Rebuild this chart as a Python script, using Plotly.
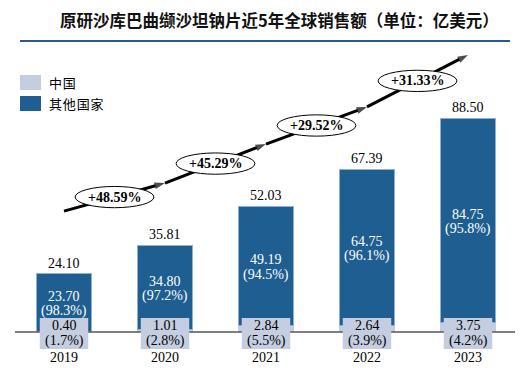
import plotly.graph_objects as go

# ---- data ----
years = ["2019", "2020", "2021", "2022", "2023"]
series_names = ["中国", "其他国家"]
china = [0.40, 1.01, 2.84, 2.64, 3.75]
china_pct = [1.7, 2.8, 5.5, 3.9, 4.2]
other = [23.70, 34.80, 49.19, 64.75, 84.75]
other_pct = [98.3, 97.2, 94.5, 96.1, 95.8]
totals = [24.10, 35.81, 52.03, 67.39, 88.50]
growth = ["+48.59%", "+45.29%", "+29.52%", "+31.33%"]
title = "原研沙库巴曲缬沙坦钠片近5年全球销售额（单位：亿美元）"

# ---- style ----
BLUE = "#1f5e91"
LIGHT = "#c5cde1"
SERIF = "Liberation Serif, Times New Roman, serif"
CJK = "Noto Sans CJK SC"
W, H, OFF = 530, 368, 8  # page body offset
PXU = 2.418  # pixels per value unit


def px(x):
    return (x - OFF) / W


def py(y):
    return 1 - (y - OFF) / H


xs = list(range(len(years)))
fig = go.Figure()
fig.add_trace(go.Bar(x=xs, y=china, name=series_names[0], marker=dict(color=LIGHT, line=dict(width=0)),
                     width=0.554, hoverinfo="skip"))
fig.add_trace(go.Bar(x=xs, y=other, name=series_names[1],
                     marker=dict(color=BLUE, line=dict(color="#8fb0cf", width=1)),
                     width=0.554, hoverinfo="skip"))

# growth arrow line through the stack (positions in axis units)
arrow_y = [50.0, 61.6, 77.7, 93.1, 114.6]
fig.add_trace(go.Scatter(x=xs, y=arrow_y, mode="lines+markers",
                         line=dict(color="black", width=3),
                         marker=dict(symbol=["circle"] + ["arrow"] * 4, size=[0] + [11] * 4,
                                     angleref="previous", color="black", line=dict(width=0)),
                         hoverinfo="skip", showlegend=False))

shapes = []
annotations = []
# title and rule
annotations.append(dict(text=f"<b>{title}</b>", xref="paper", yref="paper", x=px(279), y=py(19.5),
                        xanchor="center", yanchor="middle", showarrow=False,
                        font=dict(family=CJK, size=16.5, color="#111")))
shapes.append(dict(type="line", xref="paper", yref="paper", x0=px(20), x1=px(510),
                   y0=py(41), y1=py(41), line=dict(color="#2a5a85", width=2)))
# baseline
shapes.append(dict(type="line", xref="paper", yref="y", x0=px(15), x1=px(515), y0=0, y1=0,
                   line=dict(color="#555555", width=1.5), layer="above"))

# ellipses with growth labels
for i, g in enumerate(growth):
    cx = i + 0.5
    cy = (arrow_y[i] + arrow_y[i + 1]) / 2
    shapes.append(dict(type="circle", xref="x", yref="y", x0=cx - 0.39, x1=cx + 0.39,
                       y0=cy - 4.4, y1=cy + 4.4, fillcolor="white",
                       line=dict(color="black", width=1), layer="above"))
    annotations.append(dict(x=cx, y=cy, text=f"<b>{g}</b>", showarrow=False,
                            font=dict(family=SERIF, size=14, color="black"),
                            xanchor="center", yanchor="middle"))

f14 = dict(family=SERIF, size=14, color="black")
fw14 = dict(family=SERIF, size=14, color="white")
for i, yr in enumerate(years):
    # totals
    annotations.append(dict(x=i, y=totals[i], text=f"{totals[i]:.2f}", showarrow=False, yanchor="bottom",
                            yshift=1, font=f14))
    # other-country labels centred in the blue segment
    mid = (china[i] + totals[i]) / 2
    annotations.append(dict(x=i, y=mid, text=f"{other[i]:.2f}", showarrow=False, yanchor="middle",
                            yshift=6, font=fw14))
    annotations.append(dict(x=i, y=mid, text=f"({other_pct[i]:.1f}%)", showarrow=False, yanchor="middle",
                            yshift=-9, font=fw14))
    # china label box
    shapes.append(dict(type="rect", xref="x", yref="y", x0=i - 0.24, x1=i + 0.24,
                       y0=-17 / PXU, y1=14 / PXU, fillcolor=LIGHT, line=dict(width=0), layer="above"))
    annotations.append(dict(x=i, y=0, text=f"{china[i]:.2f}", showarrow=False, yanchor="middle",
                            yshift=7, font=f14))
    annotations.append(dict(x=i, y=0, text=f"({china_pct[i]:.1f}%)", showarrow=False, yanchor="middle",
                            yshift=-9, font=f14))
    # year labels
    annotations.append(dict(x=i, y=0, text=yr, showarrow=False, yanchor="middle", yshift=-25,
                            font=f14))

# manual legend
for k, (nm, col) in enumerate(zip(series_names, [LIGHT, BLUE])):
    top = 75 + k * 21
    shapes.append(dict(type="rect", xref="paper", yref="paper", x0=px(20), x1=px(41),
                       y0=py(top + 15), y1=py(top), fillcolor=col, line=dict(width=0)))
    annotations.append(dict(text="&#8202;".join(nm), xref="paper", yref="paper", x=px(47), y=py(top + 7.5),
                            xanchor="left", yanchor="middle", showarrow=False,
                            font=dict(family=CJK, size=13, color="black")))

# axis ranges chosen so that bar centres land at 64 + 101*i px and zero at 332 px on the page
fig.update_layout(
    width=W, height=H, margin=dict(l=0, r=0, t=0, b=0),
    paper_bgcolor="white", plot_bgcolor="white",
    barmode="stack", showlegend=False,
    xaxis=dict(range=[(OFF - 64) / 101, (W + OFF - 64) / 101], visible=False, fixedrange=True),
    yaxis=dict(range=[(332 - H - OFF) / PXU, (332 - OFF) / PXU], visible=False, fixedrange=True),
    shapes=shapes, annotations=annotations,
)
fig.write_html("out.html")
